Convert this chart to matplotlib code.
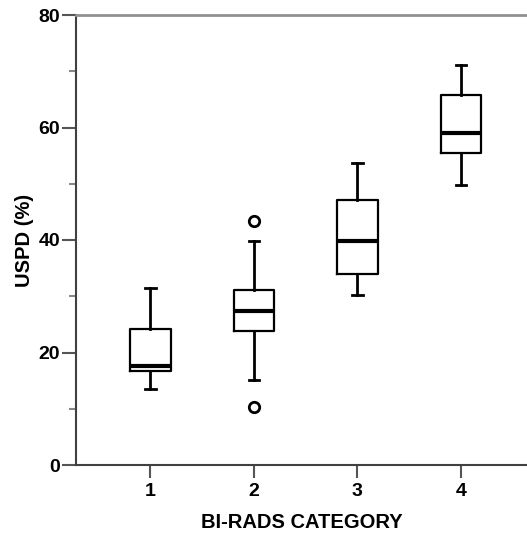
import numpy as np
import matplotlib.pyplot as plt
from matplotlib.ticker import MultipleLocator

plt.rcParams['font.family'] = ['Liberation Sans', 'DejaVu Sans']

# values
categories = ['1', '2', '3', '4']
whislo = [13.5, 15.1, 30.3, 49.7]
q1 = [16.7, 23.9, 33.9, 55.4]
med = [17.6, 27.4, 39.8, 59.0]
q3 = [24.2, 31.2, 47.2, 65.8]
whishi = [31.5, 39.8, 53.7, 71.2]
fliers = [[], [43.3, 10.3], [], []]

stats = []
for i in range(len(categories)):
    stats.append(dict(whislo=whislo[i], q1=q1[i], med=med[i], q3=q3[i],
                      whishi=whishi[i], fliers=fliers[i], label=categories[i]))

fig = plt.figure(figsize=(5.27, 5.35), dpi=100)
ax = fig.add_axes([76 / 527, 70 / 535, 1 - 76 / 527, 450 / 535])

ax.bxp(stats, positions=np.arange(1, 5), widths=0.39,
       boxprops=dict(color='black', linewidth=1.6),
       medianprops=dict(color='black', linewidth=3),
       whiskerprops=dict(color='black', linewidth=2),
       capprops=dict(color='black', linewidth=2),
       flierprops=dict(marker='o', markerfacecolor='white', markeredgecolor='black',
                       markersize=7.5, markeredgewidth=2),
       capwidths=0.1)

ax.set_xlim(0.28, 4.64)
ax.set_ylim(0, 80)
ax.yaxis.set_major_locator(MultipleLocator(20))
ax.yaxis.set_minor_locator(MultipleLocator(10))

for s in ['left', 'bottom']:
    ax.spines[s].set_color('#404040')
    ax.spines[s].set_linewidth(1.5)
ax.spines['top'].set_color('#909090')
ax.spines['top'].set_linewidth(2)
ax.spines['right'].set_visible(False)

ax.tick_params(axis='y', which='major', length=10, width=1.5, color='#555555',
               labelsize=14, pad=1.5)
ax.tick_params(axis='y', which='minor', length=5, width=1.5, color='#888888')
ax.tick_params(axis='x', length=9, width=1.5, color='#555555', labelsize=14, pad=4)
for lab in ax.get_xticklabels() + ax.get_yticklabels():
    lab.set_fontweight('bold')

ax.set_xlabel('BI-RADS CATEGORY', fontsize=14.5, fontweight='bold', labelpad=9)
ax.set_ylabel('USPD (%)', fontsize=14.5, fontweight='bold', labelpad=3)

fig.savefig('out.png', dpi=100)
